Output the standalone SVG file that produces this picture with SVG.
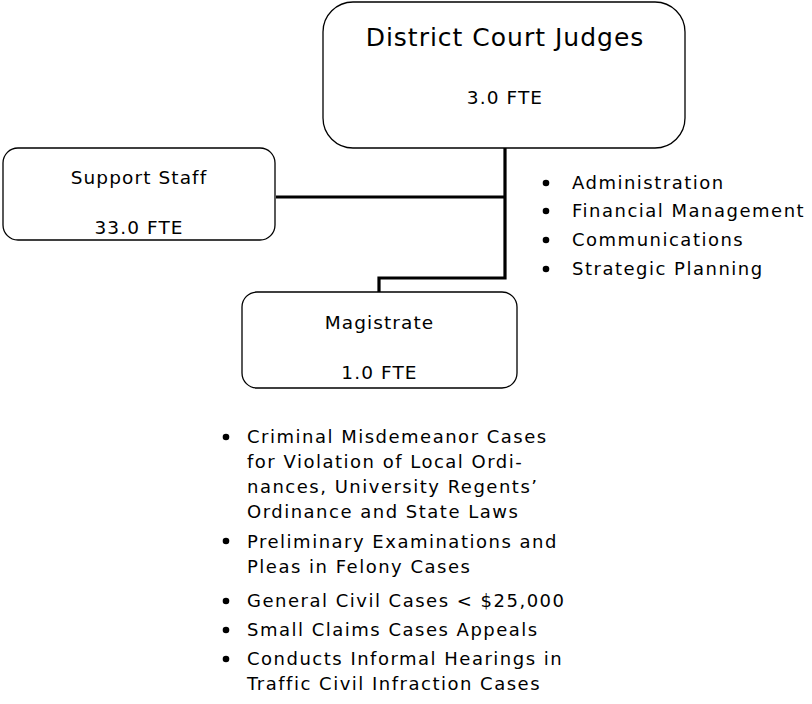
<svg xmlns="http://www.w3.org/2000/svg" width="812" height="704" viewBox="0 0 812 704">
  <style>
    .box { fill: #ffffff; stroke: #000000; stroke-width: 1.3; }
    .wire { fill: none; stroke: #000000; stroke-width: 3.2; }
    text { font-family: "DejaVu Sans", Verdana, sans-serif; fill: #000000; }
    .title { font-size: 25px; letter-spacing: 1px; text-anchor: middle; }
    .label { font-size: 18.5px; letter-spacing: 1.1px; text-anchor: middle; }
    .item { font-size: 18px; letter-spacing: 1.5px; }
    .dot { fill: #000000; }
  </style>
  <rect width="812" height="704" fill="#ffffff"/>

  <!-- connectors -->
  <g id="connectors">
    <polyline class="wire" points="505,148 505,278 379,278 379,292"/>
    <line class="wire" x1="276" y1="197" x2="505" y2="197"/>
  </g>

  <!-- top node -->
  <g id="district-court-judges">
    <rect class="box" x="323" y="2" width="362" height="146" rx="30" ry="30"/>
    <text class="title" x="505" y="46">District Court Judges</text>
    <text class="label" x="505" y="104">3.0 FTE</text>
  </g>

  <g id="support-staff">
    <rect class="box" x="3" y="148" width="272" height="92" rx="15" ry="15"/>
    <text class="label" x="139" y="184">Support Staff</text>
    <text class="label" x="139" y="234">33.0 FTE</text>
  </g>

  <g id="magistrate">
    <rect class="box" x="242" y="292" width="275" height="96" rx="15" ry="15"/>
    <text class="label" x="379.5" y="329">Magistrate</text>
    <text class="label" x="379.5" y="379">1.0 FTE</text>
  </g>

  <!-- duties of the judges -->
  <g id="judge-duties">
    <circle class="dot" cx="546" cy="183" r="3.3"/>
    <text class="item" x="572" y="189">Administration</text>
    <circle class="dot" cx="546" cy="211" r="3.3"/>
    <text class="item" x="572" y="217">Financial Management</text>
    <circle class="dot" cx="546" cy="240" r="3.3"/>
    <text class="item" x="572" y="246">Communications</text>
    <circle class="dot" cx="546" cy="269" r="3.3"/>
    <text class="item" x="572" y="275">Strategic Planning</text>
  </g>

  <!-- duties of the magistrate -->
  <g id="magistrate-duties">
    <circle class="dot" cx="226" cy="437" r="3.3"/>
    <text class="item" x="247" y="443">Criminal Misdemeanor Cases</text>
    <text class="item" x="247" y="468">for Violation of Local Ordi-</text>
    <text class="item" x="247" y="493">nances, University Regents’</text>
    <text class="item" x="247" y="518">Ordinance and State Laws</text>
    <circle class="dot" cx="226" cy="541" r="3.3"/>
    <text class="item" x="247" y="548">Preliminary Examinations and</text>
    <text class="item" x="247" y="573">Pleas in Felony Cases</text>
    <circle class="dot" cx="226" cy="601" r="3.3"/>
    <text class="item" x="247" y="607">General Civil Cases &lt; $25,000</text>
    <circle class="dot" cx="226" cy="630" r="3.3"/>
    <text class="item" x="247" y="636">Small Claims Cases Appeals</text>
    <circle class="dot" cx="226" cy="659" r="3.3"/>
    <text class="item" x="247" y="665">Conducts Informal Hearings in</text>
    <text class="item" x="247" y="690">Traffic Civil Infraction Cases</text>
  </g>
</svg>
